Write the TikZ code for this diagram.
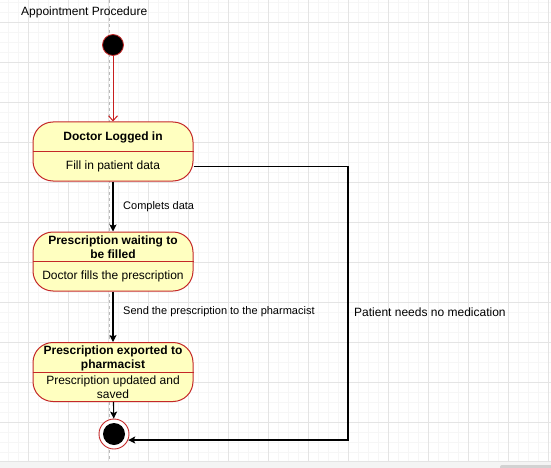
\documentclass[tikz,border=0pt]{standalone}
\usepackage{fontspec}
\setmainfont{Liberation Sans}
\usetikzlibrary{arrows.meta}

\begin{document}
\begin{tikzpicture}[x=1pt,y=-1pt,
  statebox/.style={draw=stateline,fill=stateyellow,line width=1pt,rounded corners=20pt,minimum width=160pt,minimum height=59pt,inner sep=0pt},
  statetitle/.style={font=\bfseries\fontsize{12}{14}\selectfont,align=center,inner sep=0pt},
  statebody/.style={font=\fontsize{12}{14}\selectfont,align=center,inner sep=0pt},
  edgetext/.style={font=\fontsize{11}{13}\selectfont,anchor=west,inner sep=0pt},
  divider/.style={draw=stateline,line width=1pt},
  startdot/.style={circle,fill=black,draw=stateline,line width=0.8pt,minimum size=21pt,inner sep=0pt},
  endring/.style={circle,fill=white,draw=stateline,line width=0.9pt,minimum size=30pt,inner sep=0pt},
  enddot/.style={circle,fill=black,minimum size=22pt,inner sep=0pt},
  startflow/.style={draw=arrowred,line width=1pt,-{Straight Barb[length=5pt,width=9pt]}},
  flow/.style={draw=black,line width=1.1pt,-{Stealth[length=7pt,width=7pt,inset=1.5pt]}}
]
\clip (0,0) rectangle (551,468);

\definecolor{stateyellow}{RGB}{255,255,192}
\definecolor{stateline}{RGB}{196,40,40}
\definecolor{arrowred}{RGB}{200,30,30}
\definecolor{gridminor}{RGB}{246,246,246}
\definecolor{gridmajor}{RGB}{228,228,228}
\definecolor{stripgray}{RGB}{244,244,244}

\fill[white] (0,0) rectangle (551,468);

\foreach \x in {8.5,18.5,...,548.5}
  \draw[gridminor,line width=0.6pt] (\x,0) -- (\x,461);
\foreach \y in {2,12,...,452}
  \draw[gridminor,line width=0.6pt] (0,\y) -- (551,\y);
\foreach \x in {28.5,68.5,...,548.5}
  \draw[gridmajor,line width=0.7pt] (\x,0) -- (\x,461);
\foreach \y in {22,62,...,422}
  \draw[gridmajor,line width=0.7pt] (0,\y) -- (551,\y);

\fill[stripgray] (0,461) rectangle (551,468);
\draw[gridmajor,line width=0.7pt] (0,461) -- (551,461);
\fill[gray!35,rounded corners=2pt] (500,465) rectangle (556,472);

\draw[gray!55,line width=0.5pt,dash pattern=on 3pt off 3pt] (109,0) -- (109,461);

\node[edgetext,font=\fontsize{12}{14}\selectfont] (head) at (21,12) {Appointment Procedure};

\node[startdot] (ini) at (113,45) {};

\node[statebox] (s1) at (113,151.5) {};
\draw[divider] (s1.west) -- (s1.east);
\node[statetitle] (s1t) at (113,137.5) {Doctor Logged in};
\node[statebody] (s1b) at (113,166.5) {Fill in patient data};

\node[statebox] (s2) at (113,261.5) {};
\draw[divider] (s2.west) -- (s2.east);
\node[statetitle] (s2t) at (113,247) {Prescription waiting to\\be filled};
\node[statebody] (s2b) at (113,276) {Doctor fills the prescription};

\node[statebox] (s3) at (113,372) {};
\draw[divider] (s3.west) -- (s3.east);
\node[statetitle] (s3t) at (113,358.5) {Prescription exported to\\pharmacist};
\node[statebody] (s3b) at (113,387.5) {Prescription updated and\\saved};

\node[endring] (fin) at (114,434) {};
\node[enddot] (findot) at (fin.center) {};

\draw[startflow] (ini) -- (s1);
\draw[flow] (s1) -- (s2);
\draw[flow] (s2) -- (s3);
\draw[flow] (s3) -- (fin);

\coordinate (bend) at (fin.-23 -| 348,0);
\draw[flow] (s1.east |- s1b) -| (bend) -- (fin.-23);

\node[edgetext] (lab1) at (123,207) {Complets data};
\node[edgetext] (lab2) at (123,312) {Send the prescription to the pharmacist};
\node[edgetext,font=\fontsize{12}{14}\selectfont] (lab3) at (354,312) {Patient needs no medication};

\end{tikzpicture}
\end{document}
